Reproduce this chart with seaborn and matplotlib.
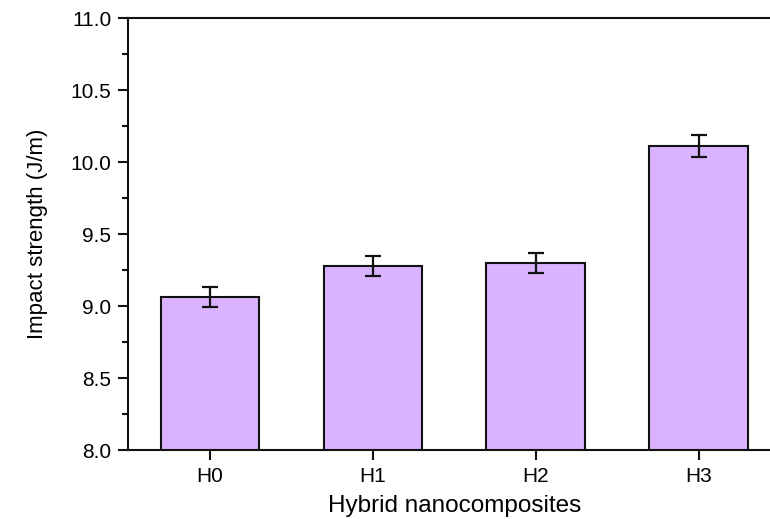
import matplotlib
matplotlib.use("Agg")
import matplotlib.pyplot as plt
import seaborn as sns
import pandas as pd
from matplotlib.ticker import MultipleLocator

categories = ["H0", "H1", "H2", "H3"]
values = [9.06, 9.28, 9.30, 10.11]
errors = [0.07, 0.07, 0.07, 0.075]

sns.set_theme(style="ticks")
plt.rcParams['font.family'] = ['Liberation Sans', 'DejaVu Sans']
plt.rcParams['text.color'] = 'black'
plt.rcParams['axes.labelcolor'] = 'black'
plt.rcParams['xtick.color'] = 'black'
plt.rcParams['ytick.color'] = 'black'

df = pd.DataFrame({"cat": categories, "val": values})

fig = plt.figure(figsize=(7.7, 5.19), dpi=100)
W, H = 770, 519
left, top, bottom = 128, 18, 450
right = 770 + 0.064 * 163
ax = fig.add_axes([left / W, 1 - bottom / H, (right - left) / W, (bottom - top) / H])

sns.barplot(data=df, x="cat", y="val", color="#D9B3FF", saturation=1,
            edgecolor="#111111", linewidth=1.5, width=0.607, errorbar=None, ax=ax)
ax.errorbar(x=range(len(categories)), y=values, yerr=errors, fmt="none",
            ecolor="#111111", elinewidth=1.6, capsize=5.5, capthick=1.6, zorder=5)

ax.set_ylim(8.0, 11.0)
ax.set_xlim(-0.503, 3.5)
ax.yaxis.set_major_locator(MultipleLocator(0.5))
ax.yaxis.set_minor_locator(MultipleLocator(0.25))
ax.yaxis.set_major_formatter(matplotlib.ticker.FormatStrFormatter("%.1f"))

for s in ["left", "bottom", "top"]:
    ax.spines[s].set_linewidth(1.5)
    ax.spines[s].set_color("#111111")
ax.spines["right"].set_visible(False)

ax.tick_params(axis="both", which="major", direction="out", length=7, width=1.5,
               color="#111111", labelcolor="black", labelsize=15, pad=5)
ax.tick_params(axis="y", which="minor", direction="out", length=4, width=1.5, color="#111111")

ax.set_xlabel("Hybrid nanocomposites", fontsize=17.5, labelpad=7, color="black")
ax.set_ylabel("Impact strength (J/m)", fontsize=16, labelpad=16, color="black")

fig.savefig("out.png", dpi=100)
